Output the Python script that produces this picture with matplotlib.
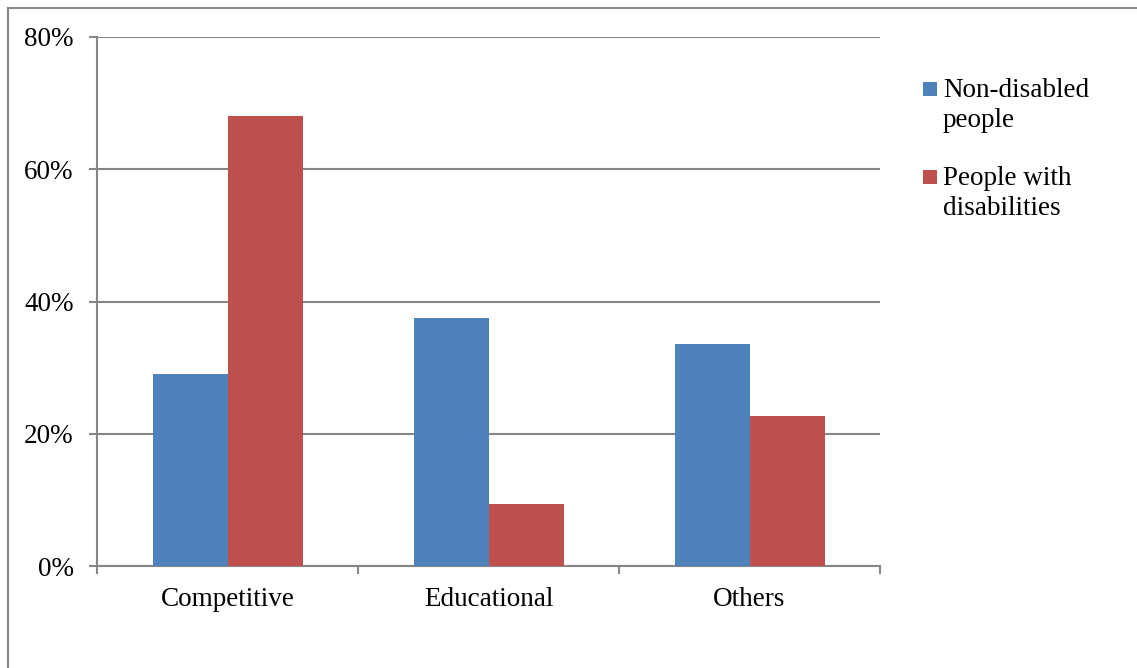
import matplotlib
matplotlib.use("Agg")
import matplotlib.pyplot as plt
from matplotlib.patches import Rectangle
from matplotlib.lines import Line2D
import numpy as np

categories = ["Competitive", "Educational", "Others"]
series_names = ["Non-disabled\npeople", "People with\ndisabilities"]
non_disabled = [29.0, 37.5, 33.6]
with_disabilities = [68.0, 9.4, 22.7]
colors = ["#4F81BD", "#C0504D"]
yticks = [0, 20, 40, 60, 80]

plt.rcParams['font.family'] = ['Liberation Serif', 'DejaVu Serif']
FS = 19.5
W, H = 1137, 668
fig = plt.figure(figsize=(W/100, H/100), dpi=100)
ax = fig.add_axes([97/W, 1-566/H, (880-97)/W, (566-37)/H])

x = np.arange(len(categories))
bw = 75/261
ax.bar(x - bw/2, non_disabled, width=bw, color=colors[0], zorder=3)
ax.bar(x + bw/2, with_disabilities, width=bw, color=colors[1], zorder=3)

ax.set_xlim(-0.5, len(categories)-0.5)
ax.set_ylim(0, 80)
ax.set_yticks(yticks)
ax.set_yticklabels([f"{v}%" for v in yticks], fontsize=FS)
ax.yaxis.grid(True, color="#868686", linewidth=1.5, zorder=0)
ax.set_axisbelow(True)

ax.set_xticks(x)
ax.set_xticklabels(categories, fontsize=FS)
ax.tick_params(axis='x', length=0, pad=15)
ax.set_xticks(np.arange(-0.5, len(categories)), minor=True)
ax.tick_params(axis='x', which='minor', length=5.8, width=1.5, color="#868686")
ax.tick_params(axis='y', length=5.8, width=1.5, color="#868686", pad=11)

for s in ["top", "right"]:
    ax.spines[s].set_visible(False)
for s in ["left", "bottom"]:
    ax.spines[s].set_color("#868686")
    ax.spines[s].set_linewidth(1.5)

# outer border (left and top visible)
fig.add_artist(Line2D([7.5/W, 7.5/W], [0, 1-8/H], transform=fig.transFigure, color="#888888", lw=1.5))
fig.add_artist(Line2D([7.5/W, 1], [1-8/H, 1-8/H], transform=fig.transFigure, color="#888888", lw=1.5))

# legend (square aligned with first text line)
legend_tops = [82, 170]
for name, col, top in zip(series_names, colors, legend_tops):
    fig.add_artist(Rectangle((923/W, 1-(top+14)/H), 14/W, 14/H, transform=fig.transFigure,
                             facecolor=col, edgecolor='none'))
    for i, line in enumerate(name.split("\n")):
        fig.text(943/W, 1-(top+15+30*i)/H, line, fontsize=FS, va='baseline', ha='left')

fig.savefig("out.png", dpi=100)
